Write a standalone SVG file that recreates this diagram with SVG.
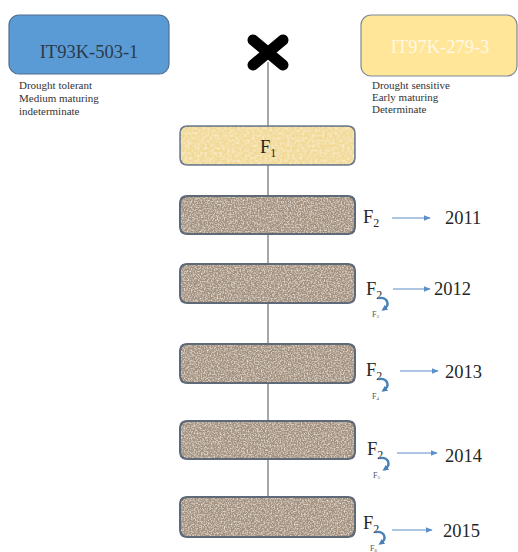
<svg xmlns="http://www.w3.org/2000/svg" width="518" height="552" viewBox="0 0 518 552" font-family="'Liberation Serif', 'Times New Roman', serif">
<style>
text{font-family:"Liberation Serif","Times New Roman",serif;fill:#262626}
.desc{font-size:11px;fill:#333}
.lbl{font-size:18.5px}
.sub{font-size:12px}
.tiny{font-size:8px;fill:#555}
.gen{fill:#a39180;stroke:#5e6a78;stroke-width:2}
.conn{stroke:#6d6d6d;stroke-width:1.2;fill:none}
.arr{stroke:#5b8fc7;stroke-width:1;fill:none}
.curl{stroke:#4a80b8;stroke-width:2.4;fill:none;stroke-linecap:round}
</style>
<defs>
<marker id="ah" viewBox="0 0 10 10" refX="9" refY="5" markerWidth="7" markerHeight="7" orient="auto" markerUnits="userSpaceOnUse">
<path d="M0,1 L10,5 L0,9 Z" fill="#5b8fc7"/>
</marker>
<marker id="ch" viewBox="0 0 10 10" refX="5" refY="5" markerWidth="6" markerHeight="6" orient="auto" markerUnits="userSpaceOnUse">
<path d="M0,0 L10,5 L0,10 Z" fill="#4a80b8"/>
</marker>
<filter id="grain" x="0" y="0" width="100%" height="100%">
<feTurbulence type="fractalNoise" baseFrequency="0.7" numOctaves="2" seed="3" result="n"/>
<feColorMatrix in="n" type="matrix" values="0 0 0 0 0.8  0 0 0 0 0.73  0 0 0 0 0.65  0 0 0 -2.4 1.4" result="light"/>
<feComposite in="light" in2="SourceGraphic" operator="atop" result="tex"/>
<feTurbulence type="fractalNoise" baseFrequency="0.8" numOctaves="1" seed="11" result="n2"/>
<feColorMatrix in="n2" type="matrix" values="0 0 0 0 0.48  0 0 0 0 0.41  0 0 0 0 0.35  0 0 0 -2.4 1.35" result="dark"/>
<feComposite in="dark" in2="SourceGraphic" operator="atop" result="tex2"/>
<feMerge><feMergeNode in="SourceGraphic"/><feMergeNode in="tex2"/><feMergeNode in="tex"/></feMerge>
</filter>
<filter id="cloth" x="0" y="0" width="100%" height="100%">
<feTurbulence type="fractalNoise" baseFrequency="0.4" numOctaves="1" seed="7" result="n"/>
<feColorMatrix in="n" type="matrix" values="0 0 0 0 1  0 0 0 0 0.95  0 0 0 0 0.8  0 0 0 -1.2 0.75" result="light"/>
<feComposite in="light" in2="SourceGraphic" operator="atop" result="tex"/>
<feMerge><feMergeNode in="SourceGraphic"/><feMergeNode in="tex"/></feMerge>
</filter>
</defs>
<rect width="518" height="552" fill="#fff"/>

<g id="connectors">
<line class="conn" x1="268" y1="62" x2="268" y2="498"/>
<line class="arr" x1="392" y1="218" x2="430" y2="218" marker-end="url(#ah)"/>
<line class="arr" x1="393" y1="289" x2="430" y2="289" marker-end="url(#ah)"/>
<line class="arr" x1="400" y1="371" x2="438" y2="371" marker-end="url(#ah)"/>
<line class="arr" x1="397" y1="453" x2="437" y2="453" marker-end="url(#ah)"/>
<line class="arr" x1="392" y1="530" x2="432" y2="530" marker-end="url(#ah)"/>
</g>

<g id="cross">
<path d="M253,40 L283,65 M283,40 L253,65" stroke="#000" stroke-width="11" stroke-linecap="round"/>
</g>

<g id="parent1">
<rect x="9" y="15" width="160" height="59" rx="10" fill="#5b9bd5" stroke="#4f6f8f" stroke-width="1.2"/>
<text x="89" y="58" text-anchor="middle" style="font-size:18.5px;fill:#2b3a4a">IT93K-503-1</text>
<text class="desc" x="19" y="89">Drought tolerant</text>
<text class="desc" x="19" y="102">Medium maturing</text>
<text class="desc" x="19" y="115">indeterminate</text>
</g>

<g id="parent2">
<rect x="361" y="15" width="156" height="61" rx="10" fill="#ffe699" stroke="#7d8a96" stroke-width="1.2"/>
<text x="440" y="53" text-anchor="middle" style="font-size:18.5px;fill:#fff8e6">IT97K-279-3</text>
<text class="desc" x="372" y="89">Drought sensitive</text>
<text class="desc" x="372" y="101">Early maturing</text>
<text class="desc" x="372" y="113">Determinate</text>
</g>

<g id="f1">
<rect x="180" y="126" width="175" height="39" rx="7" fill="#f2d996" stroke="#6f7d8c" stroke-width="1.5" filter="url(#cloth)"/>
<rect x="180" y="126" width="175" height="39" rx="7" fill="none" stroke="#6f7d8c" stroke-width="1.5"/>
<text class="lbl" x="260" y="153">F<tspan class="sub" dy="4">1</tspan></text>
</g>

<g id="gen2011">
<rect class="gen" x="180" y="196" width="175" height="38" rx="7" filter="url(#grain)"/>
<rect x="180" y="196" width="175" height="38" rx="7" fill="none" stroke="#5e6a78" stroke-width="2"/>
<text class="lbl" x="363" y="223">F<tspan class="sub" dy="4">2</tspan></text>
<text class="lbl" x="445" y="224">2011</text>
</g>

<g id="gen2012">
<rect class="gen" x="180" y="264" width="175" height="39" rx="7" filter="url(#grain)"/>
<rect x="180" y="264" width="175" height="39" rx="7" fill="none" stroke="#5e6a78" stroke-width="2"/>
<text class="lbl" x="366" y="295">F<tspan class="sub" dy="4">2</tspan></text>
<path class="curl" d="M379,298 C388,297 390,305 384,309" marker-end="url(#ch)"/>
<text class="tiny" x="372" y="317">F<tspan style="font-size:5px" dy="1">3</tspan></text>
<text class="lbl" x="434" y="295">2012</text>
</g>

<g id="gen2013">
<rect class="gen" x="180" y="344" width="175" height="39" rx="7" filter="url(#grain)"/>
<rect x="180" y="344" width="175" height="39" rx="7" fill="none" stroke="#5e6a78" stroke-width="2"/>
<text class="lbl" x="366" y="376">F<tspan class="sub" dy="4">2</tspan></text>
<path class="curl" d="M379,379 C388,378 390,386 384,390" marker-end="url(#ch)"/>
<text class="tiny" x="372" y="399">F<tspan style="font-size:5px" dy="1">4</tspan></text>
<text class="lbl" x="445" y="378">2013</text>
</g>

<g id="gen2014">
<rect class="gen" x="180" y="421" width="175" height="38" rx="7" filter="url(#grain)"/>
<rect x="180" y="421" width="175" height="38" rx="7" fill="none" stroke="#5e6a78" stroke-width="2"/>
<text class="lbl" x="367" y="455">F<tspan class="sub" dy="4">2</tspan></text>
<path class="curl" d="M380,458 C389,457 391,465 385,469" marker-end="url(#ch)"/>
<text class="tiny" x="373" y="478">F<tspan style="font-size:5px" dy="1">5</tspan></text>
<text class="lbl" x="445" y="462">2014</text>
</g>

<g id="gen2015">
<rect class="gen" x="180" y="497" width="175" height="40" rx="7" filter="url(#grain)"/>
<rect x="180" y="497" width="175" height="40" rx="7" fill="none" stroke="#5e6a78" stroke-width="2"/>
<text class="lbl" x="363" y="529">F<tspan class="sub" dy="4">2</tspan></text>
<path class="curl" d="M376,532 C385,531 387,539 381,543" marker-end="url(#ch)"/>
<text class="tiny" x="370" y="551">F<tspan style="font-size:5px" dy="1">6</tspan></text>
<text class="lbl" x="443" y="537">2015</text>
</g>
</svg>
